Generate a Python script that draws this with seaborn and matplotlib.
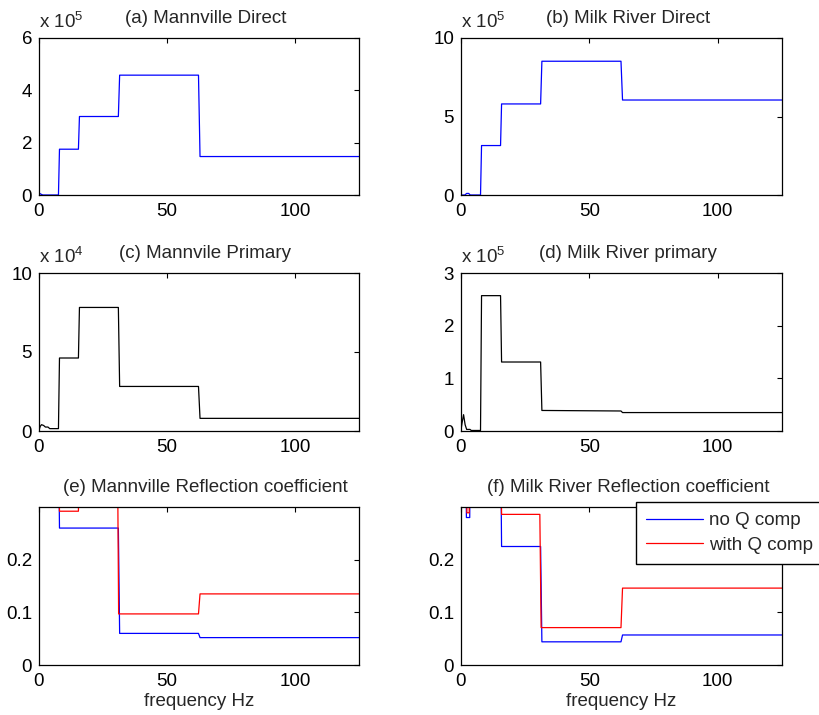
import numpy as np
import pandas as pd
import matplotlib
matplotlib.use("Agg")
import matplotlib.pyplot as plt
import seaborn as sns
from matplotlib.ticker import FuncFormatter

# ---------------- data ----------------
# (a) Mannville Direct
a_freq = [0, 0.5, 1.0, 1.5, 7.6, 8.0, 15.4, 15.8, 31.0, 31.5, 62.3, 62.9, 125]
a_val = [0.03e5, 0.05e5, 0.02e5, 0, 0, 1.75e5, 1.75e5, 3.0e5, 3.0e5, 4.58e5, 4.58e5, 1.47e5, 1.47e5]

# (b) Milk River Direct
b_freq = [0, 1.5, 2.2, 3.0, 3.6, 7.6, 8.0, 15.4, 15.8, 31.0, 31.5, 62.3, 62.9, 125]
b_val = [0, 0, 0.1e5, 0.1e5, 0, 0, 3.15e5, 3.15e5, 5.8e5, 5.8e5, 8.52e5, 8.52e5, 6.05e5, 6.05e5]

# (c) Mannvile Primary
c_freq = [0, 0.5, 1.0, 1.8, 2.5, 3.5, 4.2, 7.6, 8.0, 15.4, 15.8, 31.0, 31.5, 62.3, 62.9, 125]
c_val = [0.05e4, 0.3e4, 0.4e4, 0.35e4, 0.25e4, 0.25e4, 0.15e4, 0.15e4, 4.62e4, 4.62e4,
         7.82e4, 7.82e4, 2.82e4, 2.82e4, 0.8e4, 0.8e4]

# (d) Milk River primary
d_freq = [0, 0.4, 1.0, 1.6, 2.2, 3.5, 4.0, 7.6, 8.0, 15.4, 15.8, 31.0, 31.5, 62.3, 62.9, 125]
d_val = [0.02e5, 0.15e5, 0.31e5, 0.12e5, 0.03e5, 0.03e5, 0.01e5, 0.01e5, 2.57e5, 2.57e5,
         1.31e5, 1.31e5, 0.39e5, 0.38e5, 0.35e5, 0.35e5]

# (e) Mannville Reflection coefficient
e_blue_freq = [7.6, 8.0, 31.0, 31.5, 62.3, 62.9, 125]
e_blue_val = [0.45, 0.26, 0.26, 0.06, 0.06, 0.052, 0.052]
e_red_freq = [7.6, 8.0, 15.4, 15.8, 30.6, 31.1, 62.3, 62.9, 125]
e_red_val = [0.45, 0.292, 0.292, 0.45, 0.45, 0.097, 0.097, 0.135, 0.135]

# (f) Milk River Reflection coefficient
f_blue_freq = [1.9, 2.1, 3.4, 3.6, 15.4, 15.8, 31.0, 31.5, 62.3, 62.9, 125]
f_blue_val = [0.45, 0.28, 0.28, 0.45, 0.45, 0.225, 0.225, 0.044, 0.044, 0.057, 0.057]
f_blue_seg = [0, 0, 0, 0, 1, 1, 1, 1, 1, 1, 1]
f_red_freq = [2.1, 2.3, 3.2, 3.4, 15.4, 15.8, 30.7, 31.2, 62.3, 62.9, 125]
f_red_val = [0.45, 0.289, 0.289, 0.45, 0.45, 0.286, 0.286, 0.071, 0.071, 0.146, 0.146]
f_red_seg = [0, 0, 0, 0, 1, 1, 1, 1, 1, 1, 1]

series_names = ["no Q comp", "with Q comp"]
titles = ["(a) Mannville Direct", "(b) Milk River Direct",
          "(c) Mannvile Primary", "(d) Milk River primary",
          "(e) Mannville Reflection coefficient", "(f) Milk River Reflection coefficient"]
x_ticks = [0, 50, 100]

# ---------------- style ----------------
sns.set_style("white")
plt.rcParams["font.family"] = ["Liberation Sans", "DejaVu Sans"]
plt.rcParams["mathtext.fontset"] = "custom"
plt.rcParams["mathtext.rm"] = "Liberation Sans"
plt.rcParams["mathtext.it"] = "Liberation Sans:italic"
plt.rcParams["mathtext.bf"] = "Liberation Sans:bold"

BLUE = "#0000ff"
RED = "#ff0000"
LW = 0.9

fig = plt.figure(figsize=(8.19, 7.15), dpi=100)
W, H = 819.0, 715.0
lefts = [39, 461]
widths = [320, 321]
tops = [38, 273, 507]
bottoms = [195, 431, 665]

axes = []
for r in range(3):
    for c in range(2):
        ax = fig.add_axes([lefts[c] / W, 1 - bottoms[r] / H, widths[c] / W, (bottoms[r] - tops[r]) / H])
        axes.append(ax)


def style_axes(ax, title):
    ax.set_xlim(0, 125)
    ax.set_xticks(x_ticks)
    ax.tick_params(direction="in", top=True, right=True, length=3.5, width=0.8,
                   labelsize=13.5, colors="black")
    ax.tick_params(axis="y", pad=5)
    ax.tick_params(axis="x", pad=6)
    for s in ax.spines.values():
        s.set_color("black")
        s.set_linewidth(0.9)
    ax.set_title(title, fontsize=13.5, pad=10.5, x=0.52)
    ax.set_xlabel("")
    ax.set_ylabel("")


def sci_axis(ax, ticks, exp):
    scale = 10.0 ** exp
    ax.set_ylim(ticks[0], ticks[-1])
    ax.set_yticks(ticks)
    ax.yaxis.set_major_formatter(FuncFormatter(lambda v, p: f"{v / scale:g}"))
    ax.text(0.0, 1.0 + 10 / 157, "x 10$^{%d}$" % exp, transform=ax.transAxes,
            fontsize=13.5, ha="left", va="baseline")


# (a)
sns.lineplot(x=a_freq, y=a_val, ax=axes[0], color=BLUE, lw=LW, sort=False, estimator=None)
style_axes(axes[0], titles[0])
sci_axis(axes[0], [0, 2e5, 4e5, 6e5], 5)

# (b)
sns.lineplot(x=b_freq, y=b_val, ax=axes[1], color=BLUE, lw=LW, sort=False, estimator=None)
style_axes(axes[1], titles[1])
sci_axis(axes[1], [0, 5e5, 10e5], 5)

# (c)
sns.lineplot(x=c_freq, y=c_val, ax=axes[2], color="black", lw=LW, sort=False, estimator=None)
style_axes(axes[2], titles[2])
sci_axis(axes[2], [0, 5e4, 10e4], 4)

# (d)
sns.lineplot(x=d_freq, y=d_val, ax=axes[3], color="black", lw=LW, sort=False, estimator=None)
style_axes(axes[3], titles[3])
sci_axis(axes[3], [0, 1e5, 2e5, 3e5], 5)

# (e)
df_e = pd.concat([
    pd.DataFrame({"freq": e_blue_freq, "R": e_blue_val, "series": series_names[0], "seg": 0}),
    pd.DataFrame({"freq": e_red_freq, "R": e_red_val, "series": series_names[1], "seg": 0}),
], ignore_index=True)
sns.lineplot(data=df_e, x="freq", y="R", hue="series", units="seg", hue_order=series_names,
             palette=[BLUE, RED], ax=axes[4], lw=LW, sort=False, estimator=None, legend=False)

# (f)
df_f = pd.concat([
    pd.DataFrame({"freq": f_blue_freq, "R": f_blue_val, "series": series_names[0], "seg": f_blue_seg}),
    pd.DataFrame({"freq": f_red_freq, "R": f_red_val, "series": series_names[1], "seg": f_red_seg}),
], ignore_index=True)
sns.lineplot(data=df_f, x="freq", y="R", hue="series", units="seg", hue_order=series_names,
             palette=[BLUE, RED], ax=axes[5], lw=LW, sort=False, estimator=None, legend=True)

for ax, t in zip(axes[4:], titles[4:]):
    style_axes(ax, t)
    ax.set_ylim(0, 0.3)
    ax.set_yticks([0, 0.1, 0.2])
    ax.yaxis.set_major_formatter(FuncFormatter(lambda v, p: f"{v:g}"))
    ax.set_xlabel("frequency Hz", fontsize=13.5, labelpad=2)

handles, labels = axes[5].get_legend_handles_labels()
old = axes[5].get_legend()
if old is not None:
    old.remove()
leg = axes[5].legend(handles, labels, loc="upper left", bbox_to_anchor=(0.545, 1.032),
                     bbox_transform=axes[5].transAxes, borderaxespad=0, fontsize=13.5,
                     frameon=True, fancybox=False, framealpha=1, edgecolor="black",
                     handlelength=3.0, handletextpad=0.35, labelspacing=0.4, borderpad=0.55)
leg.get_frame().set_linewidth(1.0)
for h in leg.get_lines():
    h.set_linewidth(LW)

fig.savefig("out.png", dpi=100)
